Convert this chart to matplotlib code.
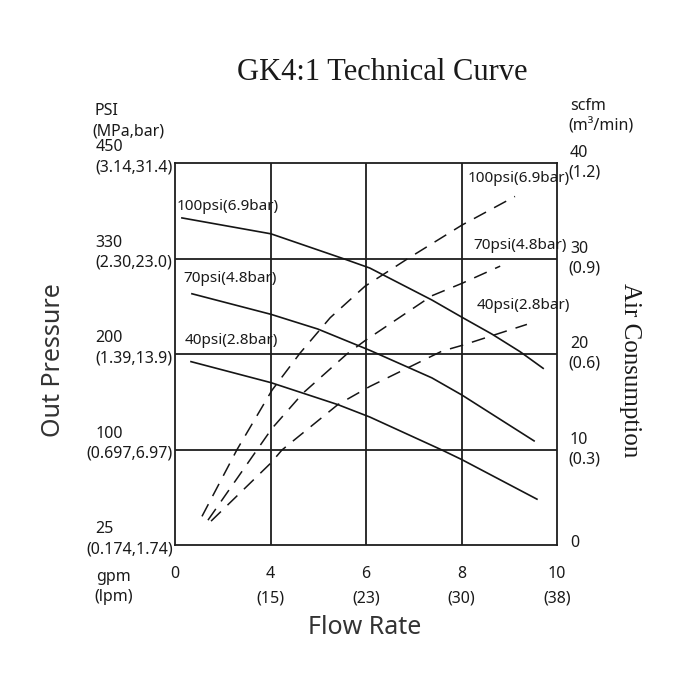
import numpy as np
import matplotlib
matplotlib.use('Agg')
import matplotlib.pyplot as plt
from matplotlib.transforms import offset_copy

# flow axis: gpm ticks are equally spaced on the chart
flow_ticks = [0, 4, 6, 8, 10]
flow_lpm = ['', '(15)', '(23)', '(30)', '(38)']

# left axis: output pressure, psi ticks equally spaced
psi_ticks = [25, 100, 200, 330, 450]
psi_sub = ['(0.174,1.74)', '(0.697,6.97)', '(1.39,13.9)', '(2.30,23.0)', '(3.14,31.4)']

# right axis: air consumption, scfm
scfm_ticks = [0, 10, 20, 30, 40]
scfm_sub = ['', '(0.3)', '(0.6)', '(0.9)', '(1.2)']

# out pressure curves (gpm, psi)
p100_gpm = [0.29, 4.01, 5.56, 6.08, 7.38, 8.01, 8.64, 9.23, 9.71]
p100_psi = [381, 361, 329, 317, 273.5, 250, 227, 203, 185]
p70_gpm = [0.71, 4.01, 4.99, 6.08, 7.38, 8.01, 9.52]
p70_psi = [282, 254, 234, 205, 175, 157, 109]
p40_gpm = [0.67, 4.01, 4.68, 5.41, 6.08, 7.59, 8.01, 9.58]
p40_psi = [192, 170, 159, 147, 134, 99.6, 92, 61]

# air consumption curves (gpm, scfm)
a100_gpm = [1.13, 2.60, 4.03, 4.62, 5.25, 5.98, 6.88, 8.01, 9.12]
a100_scfm = [3.0, 10.0, 16.2, 20.1, 23.8, 27.1, 30.0, 33.5, 36.5]
a70_gpm = [1.38, 4.03, 4.68, 5.60, 5.98, 7.38, 8.01, 8.81]
a70_scfm = [2.6, 12.2, 15.9, 20.0, 21.4, 26.1, 27.4, 29.2]
a40_gpm = [1.51, 4.01, 4.24, 5.41, 6.08, 7.59, 8.01, 9.37]
a40_scfm = [2.5, 8.6, 9.95, 14.7, 16.6, 20.3, 20.9, 23.1]

SANS = 'Noto Sans'
SERIF = 'Liberation Serif'


def piecewise(src, dst):
    return lambda v: np.interp(v, src, dst)


fig = plt.figure(figsize=(7, 7), dpi=100)
fig.patch.set_facecolor('white')
ax = fig.add_axes([175 / 700, 1 - 545 / 700, 382 / 700, 382 / 700])

pos = [0, 1, 2, 3, 4]
ax.set_xscale('function', functions=(piecewise(flow_ticks, pos), piecewise(pos, flow_ticks)))
ax.set_yscale('function', functions=(piecewise(psi_ticks, pos), piecewise(pos, psi_ticks)))
ax.set_xlim(0, 10)
ax.set_ylim(25, 450)

ax.set_xticks(flow_ticks[1:-1])
ax.set_yticks(psi_ticks[1:-1])
ax.set_xticks([], minor=True)
ax.set_yticks([], minor=True)
ax.tick_params(length=0, labelbottom=False, labelleft=False)
ax.grid(True, color='#1e1e1e', lw=1.3)
for s in ax.spines.values():
    s.set_color('#1e1e1e')
    s.set_linewidth(1.3)

ax2 = ax.twinx()
ax2.set_ylim(0, 40)
ax2.set_yticks([])
ax2.tick_params(length=0, labelright=False)
for s in ax2.spines.values():
    s.set_visible(False)

line_kw = dict(color='#151515', lw=1.2)
ax.plot(p100_gpm, p100_psi, **line_kw)
ax.plot(p70_gpm, p70_psi, **line_kw)
ax.plot(p40_gpm, p40_psi, **line_kw)

dash_kw = dict(color='#151515', lw=1.1, dashes=(9, 6))
ax2.plot(a100_gpm, a100_scfm, **dash_kw)
ax2.plot(a70_gpm, a70_scfm, **dash_kw)
ax2.plot(a40_gpm, a40_scfm, **dash_kw)

lab_kw = dict(fontsize=11, family=SANS, va='center', ha='left', color='#1a1a1a')
ax.text(0.08, 395, '100psi(6.9bar)', **lab_kw)
ax.text(0.34, 303, '70psi(4.8bar)', **lab_kw)
ax.text(0.42, 218, '40psi(2.8bar)', **lab_kw)
ax2.text(8.12, 38.4, '100psi(6.9bar)', **lab_kw)
ax2.text(8.24, 31.4, '70psi(4.8bar)', **lab_kw)
ax2.text(8.32, 25.1, '40psi(2.8bar)', **lab_kw)

tick_kw = dict(fontsize=11.5, family=SANS, va='center', color='#1a1a1a')

# left tick labels
ytr = ax.get_yaxis_transform()
for v, sub in zip(psi_ticks, psi_sub):
    ax.text(-0.209, v, str(v), ha='left',
            transform=offset_copy(ytr, fig=fig, y=11.5, units='points'), **tick_kw)
    ax.text(-0.006, v, sub, ha='right',
            transform=offset_copy(ytr, fig=fig, y=-3, units='points'), **tick_kw)

# right tick labels
ytr2 = ax2.get_yaxis_transform()
for v, sub in zip(scfm_ticks, scfm_sub):
    dy = 7 if sub else 1.5
    ax2.text(1.034, v, str(v), ha='left',
             transform=offset_copy(ytr2, fig=fig, y=dy, units='points'), **tick_kw)
    if sub:
        ax2.text(1.029, v, sub, ha='left',
                 transform=offset_copy(ytr2, fig=fig, y=-7, units='points'), **tick_kw)

# bottom tick labels
xtr = ax.get_xaxis_transform()
for v, sub in zip(flow_ticks, flow_lpm):
    ax.text(v, -0.076, str(v), ha='center', transform=xtr, **tick_kw)
    if sub:
        ax.text(v, -0.139, sub, ha='center', transform=xtr, **tick_kw)

fig.text(95 / 700, 1 - 111 / 700, 'PSI', ha='left', **tick_kw)
fig.text(92 / 700, 1 - 131 / 700, '(MPa,bar)', ha='left', **tick_kw)
fig.text(570 / 700, 1 - 106 / 700, 'scfm', ha='left', **tick_kw)
fig.text(568 / 700, 1 - 126 / 700, '(m\u00b3/min)', ha='left', **tick_kw)
fig.text(96 / 700, 1 - 577 / 700, 'gpm', ha='left', **tick_kw)
fig.text(94 / 700, 1 - 597 / 700, '(lpm)', ha='left', **tick_kw)

fig.text(382 / 700, 1 - 72 / 700, 'GK4:1 Technical Curve', ha='center', va='center',
         fontsize=22, family=SERIF, color='#1a1a1a')
fig.text(365 / 700, 1 - 628 / 700, 'Flow Rate', ha='center', va='center',
         fontsize=18, family=SANS, color='#333333')
fig.text(53 / 700, 1 - 360 / 700, 'Out Pressure', ha='center', va='center',
         rotation=90, fontsize=18, family=SANS, color='#333333')
fig.text(630 / 700, 1 - 370 / 700, 'Air Consumption', ha='center', va='center',
         rotation=270, fontsize=18, family=SERIF, color='#1a1a1a')

fig.savefig('out.png', dpi=100, facecolor='white')
